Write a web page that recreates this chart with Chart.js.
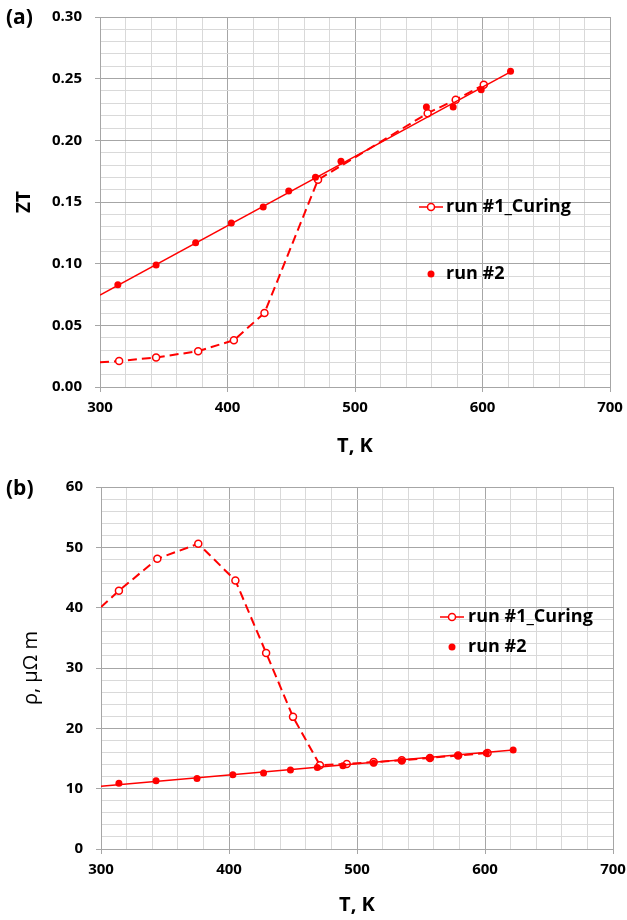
<!DOCTYPE html>
<html>
<head>
<meta charset="utf-8">
<script src="https://cdn.jsdelivr.net/npm/chart.js@4.4.1/dist/chart.umd.min.js"></script>
<style>
  html, body { margin: 0; padding: 0; background: #fff; }
  body { width: 627px; height: 920px; position: relative; overflow: hidden; font-family: "Open Sans", sans-serif; }
  .box { position: absolute; left: 0; width: 627px; height: 460px; }
  .panel { position: absolute; left: 6px; font-weight: 700; font-size: 21px; line-height: 26px; color: #000; }
</style>
</head>
<body>

<div class="box" style="top:0"><canvas id="ztChart" width="627" height="460"></canvas></div>
<div class="box" style="top:460px"><canvas id="rhoChart" width="627" height="460"></canvas></div>
<div class="panel" style="top:3px">(a)</div>
<div class="panel" style="top:474px">(b)</div>

<script>
/* DATA (a) ZT */

const tRun1A = [300, 315, 344, 377, 405, 429, 471, 557, 579, 601];
const ztRun1 = [0.020, 0.021, 0.024, 0.029, 0.038, 0.060, 0.168, 0.222, 0.233, 0.245];

const tRun2A = [314, 344, 375, 403, 428, 448, 469, 489, 556, 577, 599, 622];
const ztRun2 = [0.083, 0.099, 0.117, 0.133, 0.146, 0.159, 0.170, 0.183, 0.227, 0.227, 0.241, 0.256];

const tTrendA = [300, 622];
const ztTrend = [0.0745, 0.2555];

/* DATA (b) RESISTIVITY */

const tRun1B = [300, 314, 344, 376, 405, 429, 450, 471, 492, 513, 535, 557, 579, 602];
const rhoRun1 = [40.1, 42.8, 48.1, 50.6, 44.5, 32.5, 21.9, 13.9, 14.1, 14.4, 14.7, 15.1, 15.5, 15.9];

const tRun2B = [314, 343, 375, 403, 427, 448, 469, 489, 513, 535, 557, 579, 601, 622];
const rhoRun2 = [10.9, 11.3, 11.7, 12.3, 12.6, 13.1, 13.5, 13.8, 14.2, 14.6, 15.1, 15.5, 15.9, 16.4];

const tTrendB = [300, 622];
const rhoTrend = [10.4, 16.4];

/* LABELS */

const run1Label = "run #1_Curing";
const run2Label = "run #2";

/* STYLE */

const RED = "#ff0000";
const MAJOR = "#a6a6a6";
const MINOR = "#d9d9d9";
const FONT = "'Open Sans', sans-serif";

function pts(xs, ys) {
  return xs.map((x, i) => ({ x: x, y: ys[i] }));
}

function isMajor(v, step) {
  const r = v / step;
  return Math.abs(r - Math.round(r)) < 1e-6;
}

/* LEGEND INSIDE PLOT */

const insideLegend = {
  id: "insideLegend",
  afterDatasetsDraw(chart, args, opts) {
    const ctx = chart.ctx;
    ctx.save();
    ctx.font = "bold 18px " + FONT;
    ctx.textBaseline = "middle";

    // open circle with line
    ctx.strokeStyle = RED;
    ctx.lineWidth = 1.5;
    ctx.beginPath();
    ctx.moveTo(opts.x - 12, opts.y1);
    ctx.lineTo(opts.x + 12, opts.y1);
    ctx.stroke();
    ctx.beginPath();
    ctx.arc(opts.x, opts.y1, 3.5, 0, Math.PI * 2);
    ctx.fillStyle = "#fff";
    ctx.fill();
    ctx.stroke();

    // filled dot
    ctx.beginPath();
    ctx.arc(opts.x, opts.y2, 3.5, 0, Math.PI * 2);
    ctx.fillStyle = RED;
    ctx.fill();

    ctx.fillStyle = "#000";
    ctx.fillText(run1Label, opts.textX, opts.y1);
    ctx.fillText(run2Label, opts.textX, opts.y2);
    ctx.restore();
  }
};

/* CREATE CHART */

function createChart(id, cfg) {
  return new Chart(document.getElementById(id), {
    type: "scatter",
    data: {
      datasets: [
        {
          label: run2Label,
          data: pts(cfg.t2, cfg.v2),
          showLine: false,
          pointRadius: 3.5,
          pointBackgroundColor: RED,
          pointBorderColor: RED,
          pointBorderWidth: 0,
          order: 0
        },
        {
          label: "trend",
          data: pts(cfg.tt, cfg.vt),
          showLine: true,
          borderColor: RED,
          borderWidth: 1.5,
          pointRadius: 0,
          order: 1
        },
        {
          label: run1Label,
          data: pts(cfg.t1, cfg.v1),
          showLine: true,
          borderColor: RED,
          borderWidth: 2,
          borderDash: [9, 5],
          tension: 0,
          pointRadius: c => c.dataIndex === 0 ? 0 : 3.5,
          pointBackgroundColor: "#fff",
          pointBorderColor: RED,
          pointBorderWidth: 1.5,
          order: 2
        }
      ]
    },
    options: {
      responsive: false,
      animation: false,
      layout: {
        padding: { top: cfg.top, right: cfg.right, left: 0, bottom: 0 }
      },
      plugins: {
        legend: { display: false },
        tooltip: { enabled: false },
        insideLegend: cfg.legend
      },
      scales: {
        x: {
          type: "linear",
          min: 300,
          max: 700,
          afterFit: s => {
            s.height = cfg.xHeight;
            s.paddingLeft = 0;
            s.paddingRight = 0;
          },
          border: { color: MAJOR, width: 1 },
          grid: {
            color: c => isMajor(c.tick.value, 100) ? MAJOR : MINOR,
            tickColor: c => isMajor(c.tick.value, 100) ? MAJOR : "rgba(0,0,0,0)",
            tickLength: 5
          },
          ticks: {
            stepSize: 20,
            autoSkip: false,
            maxRotation: 0,
            padding: 7,
            color: "#000",
            font: { family: FONT, size: 15, weight: "bold" },
            callback: v => isMajor(v, 100) ? String(v) : ""
          },
          title: {
            display: true,
            text: "T, K",
            color: "#000",
            font: { family: FONT, size: 20, weight: "bold" },
            padding: { top: 0, bottom: cfg.xTitlePad }
          }
        },
        y: {
          type: "linear",
          min: cfg.yMin,
          max: cfg.yMax,
          afterFit: s => {
            s.width = cfg.yWidth;
            s.paddingTop = 0;
            s.paddingBottom = 0;
          },
          border: { color: MAJOR, width: 1 },
          grid: {
            color: c => isMajor(c.tick.value, cfg.yMajor) ? MAJOR : MINOR,
            tickColor: c => isMajor(c.tick.value, cfg.yMajor) ? MAJOR : "rgba(0,0,0,0)",
            tickLength: 5
          },
          ticks: {
            stepSize: cfg.yMinor,
            autoSkip: false,
            padding: 13,
            color: "#000",
            font: { family: FONT, size: 15, weight: "bold" },
            callback: v => isMajor(v, cfg.yMajor) ? v.toFixed(cfg.decimals) : ""
          },
          title: {
            display: true,
            text: cfg.yTitle,
            color: "#000",
            font: { family: FONT, size: cfg.yTitleSize, weight: cfg.yTitleWeight },
            padding: { top: cfg.yTitlePad, bottom: 0 }
          }
        }
      }
    },
    plugins: [insideLegend]
  });
}

/* CHARTS */

const ztChart = createChart("ztChart", {
  t1: tRun1A, v1: ztRun1,
  t2: tRun2A, v2: ztRun2,
  tt: tTrendA, vt: ztTrend,
  top: 17, right: 17, yWidth: 100, xHeight: 73, xTitlePad: 2,
  yMin: 0, yMax: 0.3, yMajor: 0.05, yMinor: 0.01, decimals: 2,
  yTitle: "ZT", yTitleSize: 19, yTitleWeight: "bold", yTitlePad: 13,
  legend: { x: 431, y1: 207, y2: 274, textX: 446 }
});

const rhoChart = createChart("rhoChart", {
  t1: tRun1B, v1: rhoRun1,
  t2: tRun2B, v2: rhoRun2,
  tt: tTrendB, vt: rhoTrend,
  top: 27, right: 14, yWidth: 101, xHeight: 71, xTitlePad: 3,
  yMin: 0, yMax: 60, yMajor: 10, yMinor: 2, decimals: 0,
  yTitle: "ρ, μΩ m", yTitleSize: 20, yTitleWeight: "normal", yTitlePad: 19,
  legend: { x: 452, y1: 157, y2: 187, textX: 468 }
});
</script>
</body>
</html>
